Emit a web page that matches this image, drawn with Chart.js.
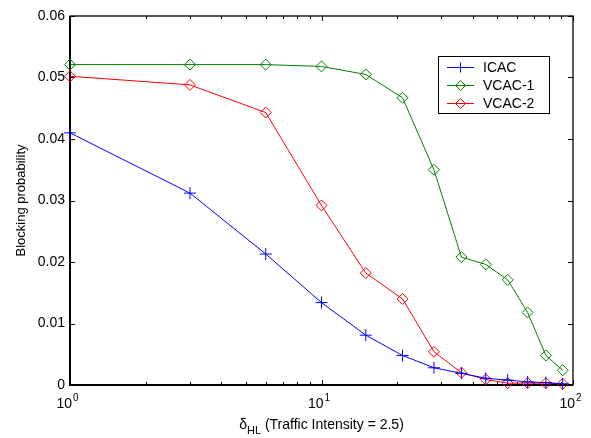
<!DOCTYPE html>
<html>
<head>
<meta charset="utf-8">
<script src="https://cdn.jsdelivr.net/npm/chart.js"></script>
<style>
  html, body { margin: 0; padding: 0; background: #fff; }
  canvas { display: block; }
</style>
</head>
<body>
<canvas id="chart" width="591" height="438"></canvas>
<script>
// --- data ---
const intensity = [1, 3, 6, 10, 15, 21, 28, 36, 45, 55, 66, 78, 91];
const icac  = [0.0410, 0.0312, 0.0213, 0.0134, 0.0081, 0.0048, 0.0028, 0.0019, 0.0011, 0.0008, 0.0005, 0.0004, 0.0002];
const vcac1 = [0.0521, 0.0521, 0.0521, 0.0518, 0.0505, 0.0467, 0.0350, 0.0208, 0.0196, 0.0171, 0.0118, 0.0048, 0.0024];
const vcac2 = [0.0502, 0.0488, 0.0443, 0.0292, 0.0182, 0.0140, 0.0054, 0.0020, 0.0009, 0.0003, 0.0003, 0.0003, 0.0002];
const seriesNames = ['ICAC', 'VCAC-1', 'VCAC-2'];
const yTicks = [0, 0.01, 0.02, 0.03, 0.04, 0.05, 0.06];
const xDecades = [1, 10, 100];

const FONT = '"Liberation Sans", Arial, sans-serif';

const toPoints = (vals) => intensity.map((x, i) => ({ x: x, y: vals[i] }));

const makeSet = (label, vals, color, style, radius) => ({
    label: label,
    data: toPoints(vals),
    borderColor: color,
    borderWidth: 1,
    pointStyle: style,
    pointRadius: radius,
    pointHoverRadius: radius,
    pointBorderColor: color,
    pointBackgroundColor: 'rgba(0,0,0,0)',
    pointBorderWidth: 1,
    tension: 0,
    clip: false
});

// small marker drawer for the legend
const drawMarker = (ctx, style, x, y, r, color) => {
    ctx.save();
    ctx.strokeStyle = color;
    ctx.lineWidth = 1;
    ctx.beginPath();
    if (style === 'cross') {
        ctx.moveTo(x - r, y); ctx.lineTo(x + r, y);
        ctx.moveTo(x, y - r); ctx.lineTo(x, y + r);
    } else {
        ctx.moveTo(x, y - r); ctx.lineTo(x + r, y);
        ctx.lineTo(x, y + r); ctx.lineTo(x - r, y);
        ctx.closePath();
    }
    ctx.stroke();
    ctx.restore();
};

// frame, inward ticks, log tick labels, x title
const axesPlugin = {
    id: 'matlabAxes',
    beforeDatasetsDraw(chart) {
        const { ctx, chartArea: a, scales: { x, y } } = chart;
        ctx.save();
        ctx.strokeStyle = '#000';
        // ticks
        ctx.lineWidth = 1;
        ctx.beginPath();
        yTicks.forEach(v => {
            const py = Math.round(y.getPixelForValue(v)) + 0.5;
            ctx.moveTo(a.left, py); ctx.lineTo(a.left + 5, py);
            ctx.moveTo(a.right, py); ctx.lineTo(a.right - 5, py);
        });
        for (let d = 1; d < 100; d *= 10) {
            for (let m = 1; m <= 10; m++) {
                const v = d * m;
                const px = Math.round(x.getPixelForValue(v)) + 0.5;
                const len = (m === 1 || m === 10) ? 5 : 3;
                ctx.moveTo(px, a.bottom); ctx.lineTo(px, a.bottom - len);
                ctx.moveTo(px, a.top); ctx.lineTo(px, a.top + len);
            }
        }
        ctx.stroke();
        // box
        ctx.lineWidth = 1.3;
        ctx.strokeRect(a.left, a.top, a.right - a.left, a.bottom - a.top);
        ctx.lineWidth = 2;
        ctx.beginPath();
        ctx.moveTo(a.left, a.top); ctx.lineTo(a.left, a.bottom); ctx.lineTo(a.right, a.bottom);
        ctx.stroke();

        // x tick labels 10^n
        ctx.fillStyle = '#000';
        ctx.textBaseline = 'alphabetic';
        xDecades.forEach((v, i) => {
            const px = x.getPixelForValue(v);
            ctx.font = '14px ' + FONT;
            ctx.textAlign = 'right';
            ctx.fillText('10', px + 2, a.bottom + 23);
            ctx.font = '10px ' + FONT;
            ctx.textAlign = 'left';
            ctx.fillText(String(i), px + 3, a.bottom + 16);
        });

        // x title: delta_HL (Traffic Intensity = 2.5)
        const cx = (a.left + a.right) / 2;
        const base = a.bottom + 44;
        ctx.font = '14px ' + FONT;
        const main = ' (Traffic Intensity = 2.5)';
        const wDelta = ctx.measureText('\u03b4').width;
        const wMain = ctx.measureText(main).width;
        ctx.font = '11px ' + FONT;
        const wSub = ctx.measureText('HL').width;
        let sx = cx - (wDelta + wSub + wMain) / 2;
        ctx.textAlign = 'left';
        ctx.font = '14px ' + FONT;
        ctx.fillText('\u03b4', sx, base);
        sx += wDelta;
        ctx.font = '11px ' + FONT;
        ctx.fillText('HL', sx, base + 5);
        sx += wSub;
        ctx.font = '14px ' + FONT;
        ctx.fillText(main, sx, base);
        ctx.restore();
    },
    afterDraw(chart) {
        // legend box in the upper right of the plot
        const { ctx } = chart;
        const styles = ['cross', 'rectRot', 'rectRot'];
        const box = { x: 438, y: 56, w: 111, h: 57 };
        ctx.save();
        ctx.fillStyle = '#fff';
        ctx.fillRect(box.x, box.y, box.w, box.h);
        ctx.strokeStyle = '#000';
        ctx.lineWidth = 1;
        ctx.strokeRect(box.x + 0.5, box.y + 0.5, box.w, box.h);
        chart.data.datasets.forEach((ds, i) => {
            const ry = box.y + 11 + i * 18;
            ctx.strokeStyle = ds.borderColor;
            ctx.beginPath();
            ctx.moveTo(box.x + 9, ry + 0.5);
            ctx.lineTo(box.x + 36, ry + 0.5);
            ctx.stroke();
            drawMarker(ctx, styles[i], box.x + 22.5, ry + 0.5, 5, ds.borderColor);
            ctx.fillStyle = '#000';
            ctx.font = '14px ' + FONT;
            ctx.textAlign = 'left';
            ctx.textBaseline = 'middle';
            ctx.fillText(ds.label, box.x + 45, ry + 1);
        });
        ctx.restore();
    }
};

new Chart(document.getElementById('chart'), {
    type: 'line',
    data: {
        datasets: [
            makeSet(seriesNames[0], icac, '#0000ff', 'cross', 6),
            makeSet(seriesNames[1], vcac1, '#008000', 'rectRot', 5.5),
            makeSet(seriesNames[2], vcac2, '#ff0000', 'rectRot', 5.5)
        ]
    },
    options: {
        responsive: false,
        animation: false,
        devicePixelRatio: 1,
        layout: { padding: { top: 16, right: 18, left: 0, bottom: 0 } },
        plugins: {
            legend: { display: false },
            tooltip: { enabled: false }
        },
        scales: {
            x: {
                type: 'logarithmic',
                min: 1,
                max: 100,
                grid: { display: false, drawTicks: false },
                border: { display: false },
                ticks: { display: false },
                afterFit: s => { s.height = 53; }
            },
            y: {
                min: 0,
                max: 0.06,
                grid: { display: false, drawTicks: false },
                border: { display: false },
                afterBuildTicks: s => { s.ticks = yTicks.map(v => ({ value: v })); },
                ticks: {
                    color: '#000',
                    padding: 5,
                    font: { family: FONT, size: 14 },
                    callback: v => v === 0 ? '0' : v.toFixed(2)
                },
                title: {
                    display: true,
                    text: 'Blocking probability',
                    color: '#000',
                    font: { family: FONT, size: 13 },
                    padding: { top: 14, bottom: 0 }
                },
                afterFit: s => { s.width = 70; }
            }
        }
    },
    plugins: [axesPlugin]
});
</script>
</body>
</html>
